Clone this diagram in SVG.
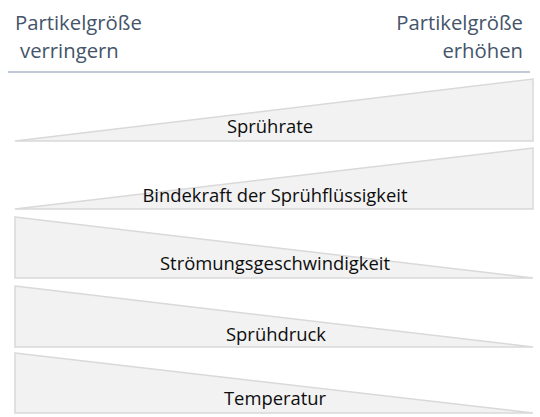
<svg xmlns="http://www.w3.org/2000/svg" width="540" height="417" viewBox="0 0 540 417">
<style>
.hdr{font-family:"Open Sans","Liberation Sans",sans-serif;font-size:20.3px;fill:#44546a}
.wedge{fill:#f2f2f2;stroke:#d9d9d9;stroke-width:1.5;stroke-linejoin:miter}
.lbl{font-family:"Open Sans","Liberation Sans",sans-serif;font-size:18.4px;fill:#0d0d0d;text-anchor:middle}
</style>
<rect width="540" height="417" fill="#fff"/>
<g id="header">
<text class="hdr" x="15" y="30">Partikelgröße</text>
<text class="hdr" x="20" y="58">verringern</text>
<text class="hdr" x="523" y="30" text-anchor="end">Partikelgröße</text>
<text class="hdr" x="523" y="58" text-anchor="end">erhöhen</text>
<line x1="8" y1="72" x2="530" y2="72" stroke="#8497b0" stroke-width="1.2"/>
</g>
<g id="spruehrate">
<polygon class="wedge" points="15,141 533,79 533,141"/>
<text class="lbl" x="270" y="133">Sprührate</text>
</g>
<g id="bindekraft">
<polygon class="wedge" points="15,209 533,148 533,209"/>
<text class="lbl" x="275" y="202">Bindekraft der Sprühflüssigkeit</text>
</g>
<g id="stroemung">
<polygon class="wedge" points="15,217 533,278 15,278"/>
<text class="lbl" x="275" y="270">Strömungsgeschwindigkeit</text>
</g>
<g id="spruehdruck">
<polygon class="wedge" points="15,286 533,347 15,347"/>
<text class="lbl" x="276" y="341">Sprühdruck</text>
</g>
<g id="temperatur">
<polygon class="wedge" points="15,353 533,413 15,413"/>
<text class="lbl" x="275" y="405">Temperatur</text>
</g>
<g id="connectors"/>
</svg>
